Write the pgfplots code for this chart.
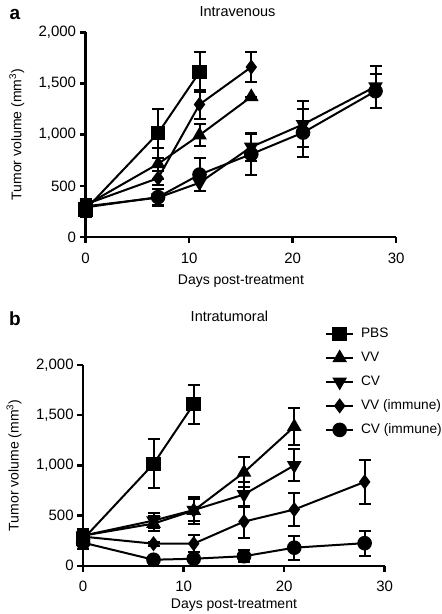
\documentclass[border=0pt]{standalone}
\usepackage{pgfplots}
\pgfplotsset{compat=1.18}
\usepackage{fontspec}
\setmainfont{Liberation Sans}
\newcommand{\fs}{\fontsize{14.5}{17}\selectfont}
\newcommand{\fst}{\fontsize{15}{18}\selectfont}
\newcommand{\fsl}{\fontsize{14}{17}\selectfont}
\newcommand{\fsg}{\fontsize{13.7}{16}\selectfont}
\begin{document}
\begin{tikzpicture}[x=1pt,y=1pt]
\path[use as bounding box] (0,0) rectangle (442,-614);
\pgfplotsset{
  panel/.style={
    scale only axis, clip=false,
    xmin=0, xmax=30, ymin=0, ymax=2000,
    axis lines=left, axis line style={-, line width=2.5pt},
    xtick={0,10,20,30}, ytick={0,500,1000,1500,2000},
    tick align=outside, major tick length=6pt,
    tick style={line width=2.5pt, black},
    scaled y ticks=false,
    /pgf/number format/1000 sep={,},
    /pgf/number format/assume math mode=true,
    tick label style={font=\fst},
    xticklabel style={yshift=-6pt},
    label style={font=\fsl},
    title style={font=\fs},
    ylabel={Tumor volume (mm\textsuperscript{3})},
    xlabel={Days post-treatment},
    every axis plot/.append style={black, line width=2pt, mark options={solid},
      error bars/y dir=both, error bars/y explicit,
      error bars/error bar style={line width=2pt},
      error bars/error mark options={rotate=90, mark size=6pt, line width=2pt}},
    legend image code/.code={\draw[mark repeat=2,mark phase=2] plot coordinates {(0pt,0pt)(13.35pt,0pt)(26.7pt,0pt)};},
  },
  sq/.style={mark=square*, mark size=6.3pt},
  tu/.style={mark=triangle*, mark size=6.5pt},
  td/.style={mark=triangle*, mark size=6.5pt, mark options={rotate=180}},
  di/.style={mark=diamond*, mark size=6pt},
  ci/.style={mark=*, mark size=6.3pt},
}
% Panel a
\begin{axis}[panel, at={(82.7,-231.5)}, anchor=south west,
  width=310.6pt, height=204.8pt,
  title={Intravenous},
  title style={at={(axis description cs:0.489,1.073)}, anchor=center},
  ylabel style={at={(axis description cs:-0.222,0.5)}, anchor=center},
  xlabel style={at={(axis description cs:0.5,-0.215)}, anchor=center},
]
\addplot[sq] table[x=x,y=y,y error=e]{
x y e
0 270 70
7 1015 240
11 1610 195
};
\addplot[tu] table[x=x,y=y,y error=e]{
x y e
0 310 50
7 715 150
11 995 105
16 1370 0
};
\addplot[td] table[x=x,y=y,y error=e]{
x y e
0 300 50
7 385 80
11 530 85
16 880 140
21 1100 225
28 1470 205
};
\addplot[di] table[x=x,y=y,y error=e]{
x y e
0 320 50
7 575 70
11 1295 140
16 1660 150
};
\addplot[ci] table[x=x,y=y,y error=e]{
x y e
0 290 50
7 390 80
11 610 160
16 810 200
21 1020 235
28 1425 165
};
\end{axis}
% Panel b
\begin{axis}[panel, at={(82.7,-563.5)}, anchor=south west,
  width=301.6pt, height=200.8pt,
  title={Intratumoral},
  title style={at={(axis description cs:0.485,1.213)}, anchor=center},
  ylabel style={at={(axis description cs:-0.229,0.5)}, anchor=center},
  xlabel style={at={(axis description cs:0.5,-0.197)}, anchor=center},
  legend style={at={(axis description cs:0.8024,1.198)}, anchor=north west,
    draw=none, fill=none, font=\fsg, inner sep=0pt, row sep=7pt, column sep=5pt,
    nodes={inner sep=2pt, text height=10pt, text depth=3pt}},
  legend cell align=left,
]
\addplot[sq] table[x=x,y=y,y error=e]{
x y e
0 265 100
7 1015 245
11 1610 195
};
\addlegendentry{PBS}
\addplot[tu] table[x=x,y=y,y error=e]{
x y e
0 300 70
7 420 75
11 550 130
16 930 150
21 1385 185
};
\addlegendentry{VV}
\addplot[td] table[x=x,y=y,y error=e]{
x y e
0 300 70
7 450 75
11 555 110
16 710 120
21 1000 160
};
\addlegendentry{CV}
\addplot[di] table[x=x,y=y,y error=e]{
x y e
0 290 60
7 220 20
11 220 85
16 440 160
21 560 165
28 835 215
};
\addlegendentry{VV (immune)}
\addplot[ci] table[x=x,y=y,y error=e]{
x y e
0 230 60
7 60 20
11 70 70
16 95 60
21 180 118
28 225 125
};
\addlegendentry{CV (immune)}
\end{axis}
\node[font=\fontsize{19}{22}\selectfont\bfseries] at (15,-14) {a};
\node[font=\fontsize{19}{22}\selectfont\bfseries] at (15,-319) {b};
\end{tikzpicture}
\end{document}
